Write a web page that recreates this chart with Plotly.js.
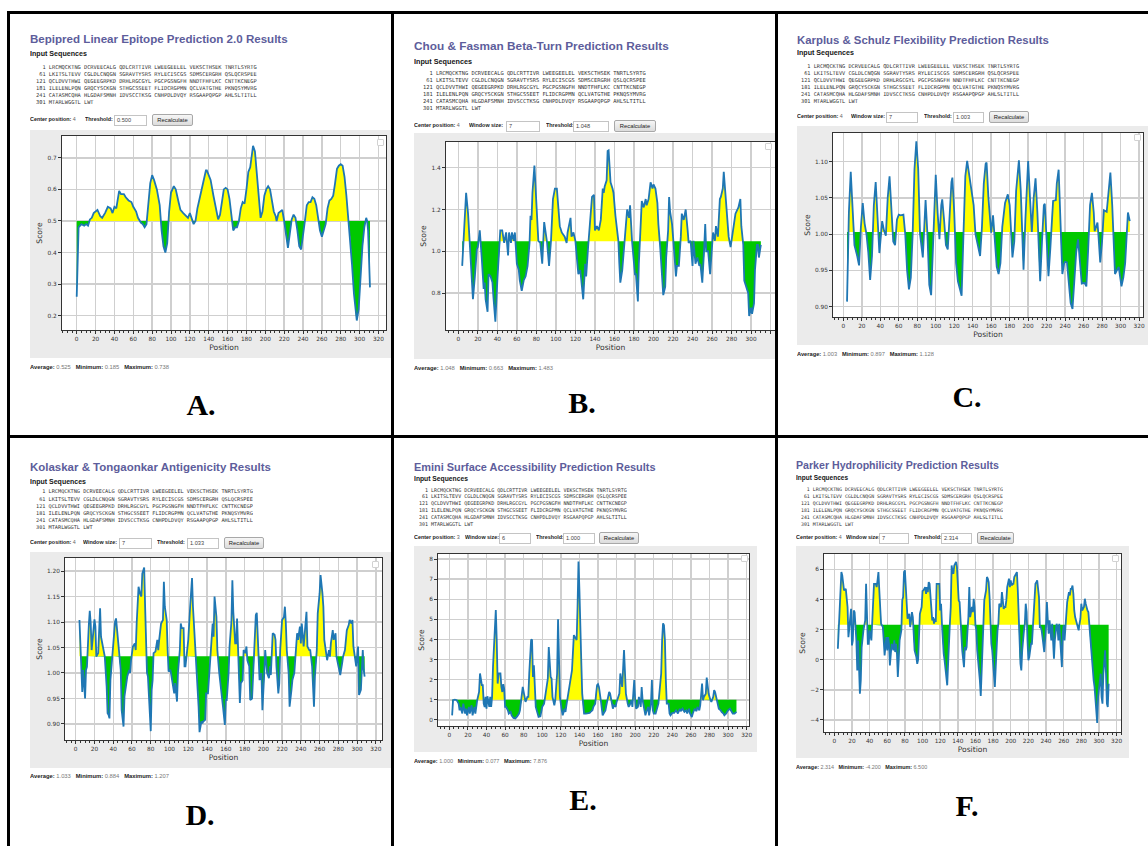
<!DOCTYPE html>
<html><head><meta charset="utf-8">
<script src="https://cdn.plot.ly/plotly-3.0.1.min.js"></script>
<style>
body{margin:0;background:#fff;width:1148px;height:846px;overflow:hidden;position:relative;font-family:"Liberation Sans",Arial,sans-serif;}
.abs{position:absolute;white-space:nowrap;opacity:0.995;}
.title{font-weight:bold;color:#5d5d9b;}
.is{font-weight:bold;color:#151515;}
.seq{font-family:"DejaVu Sans Mono",monospace;color:#333;white-space:pre;}
.ctl{color:#1a1a1a;}
.ctl b{font-weight:bold;}
.ctl span{color:#666;}
.inp{position:absolute;background:#fff;border:1px solid #c4c4c4;box-sizing:border-box;font-size:5.6px;color:#444;padding-left:2px;display:flex;align-items:center;opacity:0.995;}
.btn{position:absolute;background:linear-gradient(#f6f6f6,#dcdcdc);border:1px solid #a8a8a8;border-radius:2px;box-sizing:border-box;font-size:5.8px;color:#1a1a1a;display:flex;align-items:center;justify-content:center;opacity:0.995;}
.stats{color:#777;}
.stats b{color:#1a1a1a;}
.lbl{font-family:"Liberation Serif","Times New Roman",serif;font-weight:bold;color:#000;transform:translate(-50%,-50%);}
.icon{position:absolute;width:5px;height:5px;border:1px solid #d2d2d2;border-radius:1px;background:#fff;z-index:5;}
.bd{position:absolute;background:#000;z-index:10;}
.plot{position:absolute;overflow:hidden;}
</style></head><body>
<script>
// ---------------- DATA ----------------
const sequenceLines = [
"  1 LRCMQCKTNG DCRVEECALG QDLCRTTIVR LWEEGEELEL VEKSCTHSEK TNRTLSYRTG",
" 61 LKITSLTEVV CGLDLCNQGN SGRAVTYSRS RYLECISCGS SDMSCERGRH QSLQCRSPEE",
"121 QCLDVVTHWI QEGEEGRPKD DRHLRGCGYL PGCPGSNGFH NNDTFHFLKC CNTTKCNEGP",
"181 ILELENLPQN GRQCYSCKGN STHGCSSEET FLIDCRGPMN QCLVATGTHE PKNQSYMVRG",
"241 CATASMCQHA HLGDAFSMNH IDVSCCTKSG CNHPDLDVQY RSGAAPQPGP AHLSLTITLL",
"301 MTARLWGGTL LWT"];

const panelIds = ['A','B','C','D','E','F'];
const panelTitles = ['Bepipred Linear Epitope Prediction 2.0 Results','Chou & Fasman Beta-Turn Prediction Results','Karplus & Schulz Flexibility Prediction Results','Kolaskar & Tongaonkar Antigenicity Results','Emini Surface Accessibility Prediction Results','Parker Hydrophilicity Prediction Results'];
const centerPositions = ['4','4','4','4','3','4'];
const windowSizes = [null,'7','7','7','6','7'];
const thresholds = [0.500, 1.048, 1.003, 1.033, 1.000, 2.314];
const averages = ['0.525','1.048','1.003','1.033','1.000','2.314'];
const minimums = ['0.185','0.663','0.897','0.884','0.077','-4.200'];
const maximums = ['0.738','1.483','1.128','1.207','7.876','6.500'];

// [position, score]
const bepipredA = [[0,0.26],[2,0.48],[5,0.49],[8,0.485],[10,0.49],[12,0.485],[14,0.505],[16,0.51],[18,0.525],[20,0.53],[22,0.535],[25,0.515],[27,0.51],[30,0.525],[33,0.545],[36,0.54],[38,0.525],[40,0.545],[42,0.54],[45,0.595],[47,0.585],[50,0.585],[52,0.575],[55,0.565],[58,0.56],[60,0.545],[63,0.53],[65,0.51],[68,0.495],[70,0.49],[72,0.48],[74,0.49],[76,0.55],[78,0.62],[80,0.645],[82,0.63],[85,0.60],[88,0.55],[90,0.47],[92,0.42],[94,0.40],[96,0.43],[98,0.53],[100,0.59],[103,0.61],[105,0.60],[108,0.56],[110,0.535],[113,0.525],[115,0.52],[118,0.51],[120,0.525],[122,0.51],[124,0.49],[126,0.50],[128,0.54],[131,0.58],[134,0.625],[137,0.66],[138,0.66],[140,0.645],[142,0.63],[145,0.58],[148,0.53],[150,0.505],[152,0.52],[154,0.56],[156,0.60],[158,0.605],[160,0.60],[162,0.57],[164,0.51],[166,0.47],[168,0.48],[170,0.48],[172,0.50],[174,0.54],[176,0.56],[178,0.555],[180,0.60],[182,0.655],[184,0.67],[186,0.71],[187,0.738],[189,0.72],[191,0.64],[193,0.56],[195,0.51],[197,0.53],[199,0.58],[201,0.60],[203,0.61],[205,0.60],[207,0.57],[209,0.53],[211,0.515],[212,0.50],[214,0.525],[216,0.53],[218,0.535],[220,0.50],[222,0.45],[224,0.415],[226,0.46],[228,0.505],[230,0.52],[232,0.51],[234,0.47],[236,0.42],[238,0.41],[240,0.45],[242,0.50],[244,0.55],[246,0.56],[248,0.56],[250,0.575],[252,0.57],[254,0.55],[256,0.51],[258,0.47],[260,0.45],[262,0.47],[264,0.49],[266,0.54],[268,0.565],[270,0.57],[272,0.58],[274,0.62],[276,0.665],[278,0.675],[280,0.68],[282,0.675],[284,0.64],[286,0.58],[288,0.51],[290,0.45],[292,0.36],[294,0.27],[296,0.20],[297,0.185],[299,0.22],[301,0.33],[303,0.42],[305,0.48],[307,0.51],[308,0.50],[309,0.47],[311,0.29]];

const chouFasmanB = [[4,0.93],[8,1.28],[10,1.18],[15,0.77],[17,0.88],[19,1.01],[20,1.02],[22,1.10],[24,0.97],[26,0.82],[27,0.85],[28,0.77],[30,0.71],[31,0.89],[33,0.88],[35,0.85],[36,0.78],[38,0.663],[40,0.86],[43,1.10],[45,1.10],[47,1.04],[49,1.09],[51,0.98],[52,1.09],[54,1.04],[55,1.09],[57,1.05],[58,1.09],[60,0.94],[62,0.91],[63,0.86],[65,0.81],[67,0.86],[69,0.88],[71,0.93],[73,1.04],[74,1.17],[75,1.15],[76,1.28],[78,1.41],[80,1.23],[82,1.05],[84,1.04],[86,0.94],[88,1.14],[90,1.07],[91,1.04],[93,0.93],[95,1.05],[97,1.25],[99,1.30],[101,1.30],[103,1.18],[104,1.12],[106,1.09],[109,1.07],[111,1.04],[112,1.09],[115,1.16],[116,1.07],[118,1.09],[120,1.05],[122,0.94],[123,0.89],[125,0.91],[127,0.83],[128,0.77],[130,0.94],[131,0.88],[133,1.02],[135,1.15],[137,1.26],[139,1.27],[140,1.10],[142,1.12],[144,1.10],[146,1.15],[148,1.30],[149,1.28],[150,1.31],[152,1.34],[153,1.48],[154,1.483],[156,1.33],[158,1.30],[159,1.28],[161,1.17],[163,1.10],[164,1.05],[165,0.94],[166,0.85],[168,0.91],[170,1.04],[172,1.15],[173,1.20],[175,1.16],[176,1.22],[178,1.05],[180,0.96],[181,0.89],[182,0.89],[184,0.76],[185,0.94],[187,1.18],[188,1.24],[190,1.21],[192,1.25],[193,1.22],[195,1.25],[197,1.33],[199,1.30],[200,1.32],[202,1.30],[204,1.23],[205,1.13],[207,1.01],[209,0.88],[210,0.79],[212,0.83],[213,0.97],[215,1.10],[216,1.26],[217,1.19],[219,1.13],[221,1.01],[223,0.88],[224,0.93],[226,0.93],[228,1.07],[229,1.18],[231,1.15],[233,1.20],[235,1.10],[236,1.04],[238,1.05],[240,0.93],[241,1.05],[243,0.94],[245,0.97],[247,0.93],[248,0.94],[250,0.85],[252,1.02],[253,1.13],[254,1.00],[256,1.00],[258,0.89],[260,1.02],[261,1.09],[263,1.05],[264,1.12],[266,1.07],[268,1.25],[269,1.26],[271,1.30],[272,1.38],[274,1.26],[276,1.12],[277,1.07],[279,1.02],[281,1.09],[282,1.13],[284,1.18],[287,1.21],[289,1.25],[290,1.12],[292,1.03],[293,0.86],[295,0.83],[297,0.80],[298,0.69],[300,0.73],[301,0.70],[303,0.75],[304,0.91],[306,1.03],[307,1.03],[308,0.97],[310,1.03]];

const karplusSchulzC = [[4,0.907],[6,1.03],[8,1.086],[10,1.04],[12,0.985],[15,0.97],[17,0.957],[19,1.01],[21,1.043],[23,1.015],[25,1.0],[27,0.975],[29,0.937],[31,0.97],[33,1.04],[35,1.072],[37,1.02],[39,0.974],[42,1.018],[44,1.005],[46,0.998],[48,1.05],[50,1.080],[52,1.04],[54,0.99],[56,0.985],[58,1.02],[60,1.027],[62,1.026],[65,1.027],[67,1.0],[69,0.95],[71,0.924],[73,0.94],[75,1.0],[77,1.09],[79,1.128],[81,1.09],[83,1.0],[86,0.968],[87,1.0],[89,1.047],[91,1.0],[93,0.93],[95,0.916],[97,0.98],[99,1.06],[100,1.082],[102,1.03],[104,0.993],[106,1.04],[107,1.048],[109,1.02],[111,0.985],[113,0.979],[115,1.03],[117,1.072],[118,1.078],[120,1.03],[122,0.96],[124,0.935],[126,0.925],[128,0.915],[130,1.0],[132,1.08],[134,1.101],[136,1.085],[139,1.061],[141,1.04],[143,1.0],[146,0.98],[148,0.970],[150,1.01],[152,1.07],[154,1.097],[155,1.099],[157,1.05],[160,1.002],[162,1.026],[164,0.99],[166,0.955],[168,0.945],[170,0.96],[172,1.01],[175,1.043],[178,1.055],[180,1.04],[183,0.968],[185,0.99],[187,1.06],[189,1.097],[190,1.102],[192,1.06],[194,0.97],[195,0.951],[197,1.02],[199,1.09],[200,1.101],[202,1.05],[204,1.003],[206,1.05],[208,1.077],[210,1.03],[212,0.95],[213,0.935],[215,0.99],[217,1.04],[218,1.042],[220,0.99],[222,0.942],[224,0.98],[226,1.04],[227,1.046],[230,1.047],[231,1.07],[233,1.089],[235,1.0],[237,0.945],[239,0.96],[240,0.962],[242,0.961],[244,0.93],[246,0.905],[248,0.897],[250,0.93],[252,0.975],[254,0.993],[256,0.96],[258,0.932],[261,0.933],[263,0.928],[265,0.98],[267,1.04],[269,1.057],[271,1.03],[272,1.004],[275,1.016],[276,1.0],[278,0.961],[280,0.99],[282,1.033],[285,1.031],[287,1.06],[289,1.085],[291,1.04],[292,1.0],[294,0.945],[296,0.95],[298,0.955],[301,0.928],[303,0.94],[305,0.96],[307,1.0],[308,1.030],[310,1.018]];

const kolaskarD = [[4,1.104],[5,1.052],[7,0.963],[8,1.006],[10,0.950],[11,1.006],[12,1.012],[14,1.094],[15,1.122],[16,1.097],[17,1.045],[18,1.065],[20,1.105],[21,1.091],[22,1.032],[24,1.039],[25,1.078],[26,1.127],[27,1.071],[29,1.052],[30,1.045],[31,1.032],[33,0.973],[34,0.921],[35,0.918],[36,0.911],[37,0.986],[39,1.032],[40,1.065],[42,1.101],[43,1.107],[45,1.065],[46,1.032],[48,1.006],[49,0.927],[51,0.895],[52,0.954],[54,0.980],[55,0.993],[57,1.006],[58,1.0],[59,1.025],[61,1.052],[63,1.058],[64,1.045],[65,1.097],[67,1.169],[69,1.153],[70,1.150],[71,1.195],[73,1.207],[74,1.130],[75,1.065],[76,1.0],[77,0.993],[79,0.921],[80,0.886],[81,0.967],[82,0.986],[83,1.039],[85,1.042],[87,1.065],[88,1.045],[89,1.065],[91,1.097],[93,1.104],[94,1.179],[95,1.130],[97,1.104],[98,1.045],[99,1.003],[101,1.006],[102,0.993],[104,0.963],[105,0.960],[106,0.980],[108,0.944],[109,1.0],[111,1.045],[112,1.097],[113,1.088],[115,1.088],[116,1.013],[117,1.013],[119,1.045],[120,1.065],[122,1.130],[123,1.169],[124,1.186],[125,1.130],[127,1.065],[128,1.032],[130,0.986],[131,0.934],[132,0.884],[134,0.905],[135,0.901],[136,0.905],[138,0.908],[139,0.960],[141,0.960],[142,0.986],[143,1.032],[145,1.071],[146,1.097],[147,1.071],[148,1.150],[150,1.110],[151,1.045],[153,1.0],[154,0.986],[155,0.967],[157,0.934],[159,0.898],[160,0.947],[161,0.947],[163,1.0],[164,1.052],[166,1.101],[167,1.182],[168,1.120],[170,1.058],[171,1.058],[172,1.107],[174,0.986],[175,0.941],[176,0.980],[178,0.986],[179,1.045],[181,1.039],[182,1.052],[183,1.025],[185,1.013],[186,0.947],[188,0.950],[189,1.0],[190,1.013],[192,1.114],[193,1.118],[195,1.045],[196,0.986],[198,1.0],[199,0.927],[201,1.0],[202,1.045],[204,1.0],[206,0.990],[207,1.013],[208,0.996],[210,1.078],[212,1.075],[213,1.065],[214,1.013],[216,0.960],[217,0.980],[218,1.045],[220,1.104],[222,1.110],[223,1.130],[224,1.097],[225,1.045],[227,1.0],[228,0.934],[230,0.967],[231,0.986],[233,1.0],[234,1.032],[236,1.078],[237,1.065],[239,1.091],[240,1.058],[241,1.097],[243,1.052],[245,1.097],[246,1.120],[247,1.052],[249,1.045],[250,1.045],[252,1.013],[254,0.934],[255,0.993],[257,1.045],[258,1.117],[260,1.156],[261,1.192],[263,1.156],[264,1.130],[265,1.065],[267,1.032],[268,1.025],[270,1.045],[271,1.032],[272,1.058],[274,1.084],[275,1.065],[277,1.078],[278,1.032],[280,1.013],[281,1.006],[282,0.996],[284,1.019],[285,1.032],[287,1.045],[288,1.065],[289,1.084],[291,1.094],[292,1.104],[294,1.097],[295,1.104],[296,1.052],[298,1.025],[299,1.013],[301,1.052],[302,0.957],[304,0.967],[305,1.0],[306,1.045],[307,1.006],[308,0.993]];

const eminiE = [[3,0.23],[4,0.98],[6,1.01],[8,0.98],[10,0.81],[11,0.48],[12,0.65],[14,0.32],[15,0.81],[17,0.32],[18,0.56],[19,0.23],[21,0.65],[22,0.32],[24,0.73],[25,0.23],[27,0.65],[28,0.32],[30,0.98],[31,1.15],[32,1.39],[33,2.31],[35,1.73],[36,1.73],[37,0.81],[38,0.65],[39,1.15],[40,0.56],[41,1.18],[43,0.65],[44,1.15],[45,0.65],[46,1.15],[47,2.64],[48,3.63],[49,4.63],[50,5.46],[51,3.97],[52,1.81],[53,2.31],[55,2.31],[56,1.64],[57,1.39],[58,1.78],[59,1.56],[60,0.65],[61,0.65],[63,0.48],[64,0.32],[66,0.40],[67,0.23],[69,0.10],[71,0.077],[73,0.18],[75,0.32],[76,0.48],[78,1.15],[79,1.64],[80,1.39],[81,0.98],[82,0.90],[84,1.15],[85,1.15],[86,2.31],[88,3.97],[89,4.0],[90,2.14],[91,2.72],[92,1.15],[93,0.65],[95,0.32],[96,0.15],[98,0.18],[99,0.48],[100,0.65],[102,0.81],[103,1.15],[104,1.31],[106,2.06],[107,3.63],[108,2.97],[109,2.14],[110,2.06],[111,1.15],[113,0.73],[114,0.98],[115,1.64],[116,2.31],[117,5.01],[118,2.31],[119,1.15],[121,0.48],[122,0.23],[124,0.56],[125,0.40],[126,0.73],[128,1.31],[129,1.64],[131,2.31],[132,2.47],[134,4.22],[135,4.13],[137,3.97],[138,5.63],[139,7.876],[140,6.46],[141,3.97],[142,2.89],[143,1.31],[144,0.56],[145,0.32],[147,0.32],[148,0.32],[150,0.32],[151,0.35],[152,0.40],[154,0.48],[155,0.65],[157,0.81],[158,1.31],[159,1.73],[160,1.78],[161,1.64],[163,0.98],[164,0.65],[165,0.23],[166,0.32],[168,0.48],[169,0.73],[171,1.23],[172,1.39],[173,1.31],[174,0.98],[176,0.56],[177,0.73],[179,0.65],[180,0.90],[182,1.15],[183,1.31],[184,2.31],[185,1.81],[186,1.64],[188,3.47],[189,2.64],[190,1.31],[192,0.81],[193,0.65],[194,0.73],[196,0.98],[197,0.65],[199,1.98],[200,0.98],[201,0.56],[203,0.65],[204,1.15],[206,0.65],[207,1.64],[208,0.98],[210,0.48],[211,0.23],[212,0.40],[214,0.65],[215,0.23],[217,0.81],[218,1.98],[219,0.48],[220,0.32],[222,0.32],[223,0.48],[225,0.81],[226,1.31],[228,2.31],[229,3.97],[230,4.80],[231,4.71],[232,3.97],[233,1.98],[234,0.81],[236,0.81],[237,0.32],[238,0.23],[240,0.35],[242,0.35],[244,0.48],[246,0.32],[248,0.56],[249,0.44],[251,0.56],[253,0.40],[255,0.48],[256,0.32],[258,0.56],[259,0.32],[261,0.15],[262,0.32],[264,0.56],[266,0.44],[267,0.65],[269,0.48],[270,0.73],[272,1.81],[273,0.98],[274,1.15],[276,1.31],[277,2.11],[278,1.64],[279,1.31],[281,0.98],[282,0.90],[284,1.15],[285,1.48],[286,1.39],[288,0.98],[289,0.73],[290,0.56],[292,0.48],[293,0.40],[295,0.32],[296,0.23],[298,0.32],[300,0.48],[302,0.56],[303,0.48],[305,0.32],[307,0.32],[309,0.40]];

const parkerF = [[4,0.73],[5,2.29],[6,3.16],[7,4.38],[8,5.82],[9,5.6],[10,5.04],[11,4.6],[13,4.71],[14,4.16],[15,3.5],[16,1.5],[17,2.17],[18,3.05],[19,3.38],[20,0.95],[21,1.28],[22,3.27],[23,3.16],[25,1.28],[26,-0.71],[27,1.28],[28,-0.49],[29,-2.26],[30,-1.37],[31,0.84],[33,1.95],[34,2.39],[35,2.61],[36,5.04],[37,2.39],[38,1.06],[39,1.06],[40,1.95],[42,1.28],[43,2.39],[44,3.94],[45,5.04],[47,5.04],[48,4.82],[49,5.27],[50,5.82],[51,4.6],[53,2.39],[54,2.28],[55,2.17],[56,1.28],[57,0.29],[59,1.5],[60,0.62],[61,1.5],[62,1.06],[63,-0.38],[64,0.4],[65,1.06],[67,0.62],[68,1.28],[69,0.51],[70,1.06],[71,0.4],[72,-1.15],[73,-0.04],[74,1.28],[76,1.95],[77,3.94],[78,4.16],[79,5.82],[80,5.93],[81,4.6],[82,3.5],[83,2.72],[85,3.05],[86,2.17],[87,2.6],[88,3.16],[89,2.83],[90,1.28],[91,0.62],[93,0.18],[94,-0.27],[95,0],[96,2.28],[97,3.05],[99,3.5],[100,4.56],[101,4.6],[102,4.71],[103,4.82],[104,4.38],[105,4.82],[106,4.49],[107,5.15],[108,5.04],[110,3.05],[111,2.61],[112,2.83],[113,2.4],[114,2.72],[115,2.5],[116,5.04],[118,5.04],[119,5.04],[120,3.27],[121,3.72],[122,2.39],[123,1.06],[124,0.4],[125,-0.04],[127,-1.37],[128,-1.7],[129,-0.27],[130,1.95],[131,2.39],[132,3.5],[133,6.26],[134,5.82],[135,5.71],[136,6.26],[138,6.5],[139,6.15],[140,5.04],[141,3.94],[142,3.83],[143,2.83],[144,1.28],[145,0.62],[147,-0.49],[148,0.84],[149,0.62],[150,0.84],[151,1.95],[152,2.83],[153,4.82],[154,2.83],[156,3.5],[157,3.16],[158,4.05],[159,3.5],[160,2.28],[161,1.95],[162,0.62],[164,-0.49],[165,-1.37],[166,-2.4],[167,-0.93],[168,0.84],[169,2.39],[170,3.94],[172,4.6],[173,5.49],[174,5.38],[175,5.15],[176,4.16],[177,2.39],[178,1.06],[179,0.62],[181,-1.15],[182,-1.81],[183,-0.49],[184,1.5],[185,1.95],[186,2.39],[187,3.72],[189,3.5],[190,4.49],[191,3.94],[192,3.38],[193,3.5],[194,3.5],[195,3.94],[196,4.82],[198,5.38],[199,4.82],[200,5.27],[201,4.93],[202,5.04],[203,5.04],[204,5.49],[206,5.71],[207,5.82],[208,4.6],[209,2.39],[210,0.18],[211,-0.27],[212,-0.71],[213,0.62],[215,1.95],[216,2.39],[217,3.72],[218,3.16],[219,1.28],[220,-0.04],[221,0.18],[223,1.06],[224,1.06],[225,2.28],[226,3.5],[227,4.6],[228,5.04],[229,5.15],[230,5.27],[232,4.16],[233,2.17],[234,2.17],[235,1.95],[236,1.5],[237,0.84],[238,0.51],[240,2.17],[241,3.83],[242,2.61],[243,1.73],[244,2.61],[245,1.62],[246,1.28],[247,2.39],[249,0.07],[250,1.28],[251,1.95],[252,2.39],[253,2.17],[254,1.28],[255,2.39],[256,1.17],[258,-0.49],[259,1.73],[260,2.28],[261,1.28],[262,2.39],[263,3.27],[264,3.83],[266,4.49],[267,4.27],[268,4.71],[269,4.71],[270,4.93],[271,4.38],[272,3.27],[273,2.83],[275,2.39],[276,2.06],[277,1.95],[278,2.39],[279,2.72],[280,3.72],[281,3.27],[283,3.5],[284,4.05],[285,3.72],[286,3.38],[287,3.27],[288,3.16],[289,2.39],[290,1.28],[292,0.18],[293,-0.49],[294,-1.37],[295,-1.81],[296,-2.7],[297,-3.2],[298,-4.2],[299,-2.48],[300,-1.81],[302,-0.93],[303,-2.48],[304,-2.92],[305,-0.93],[306,0.4],[307,0.62],[308,-0.93],[309,-2.92],[310,-3.14],[311,-1.59]];

const seriesList = [bepipredA, chouFasmanB, karplusSchulzC, kolaskarD, eminiE, parkerF];

// ---------------- LAYOUT (positions / styles only) ----------------
const plotBoxes = [
 {gray:[30,130,361,228], m:{l:32,r:5,t:6,b:28}, xr:[-15.6,328], yr:[0.155,0.769], ydt:0.1, yfmt:'.1f', icon:[377,139]},
 {gray:[414,133,361,226], m:{l:32,r:0,t:9,b:29}, xr:[-12.6,324.5], yr:[0.623,1.523], ydt:0.2, yfmt:'.1f', icon:[765,143]},
 {gray:[797,126,351,219], m:{l:36,r:5,t:7,b:28}, xr:[-11.2,324.3], yr:[0.8858,1.1396], ydt:0.05, yfmt:'.2f', icon:[1134,134]},
 {gray:[30,552,361,216], m:{l:35,r:9,t:6,b:28}, xr:[-11.4,326.5], yr:[0.8686,1.2255], ydt:0.05, yfmt:'.2f', icon:[372,561]},
 {gray:[414,546,343,206], m:{l:24,r:8,t:8,b:26}, xr:[-12.2,322.5], yr:[-0.30,8.25], ydt:1, yfmt:'d', icon:[741,555]},
 {gray:[796,546,333,212], m:{l:28,r:8,t:8,b:26}, xr:[-11.7,325], yr:[-4.80,7.02], ydt:2, yfmt:'', icon:[1112,555]}
];
const headerBoxes = [
 {title:[30,40,258], is:[30,55,57], seq:[36,67,221,7], ctlY:120, cp:30, win:null, thr:85, thrBox:[114,147], btn:[152,193], stats:[30,368,139], lab:[201,405]},
 {title:[414,47,255], is:[414,62,58], seq:[423,73,223,7], ctlY:126, cp:414, win:[469,506,540], thr:546, thrBox:[573,609], btn:[614,656], stats:[414,369,139], lab:[582,403]},
 {title:[797,41,252], is:[797,54,57], seq:[801,66,218,7], ctlY:117, cp:797, win:[851,886,918], thr:924, thrBox:[953,984], btn:[989,1029], stats:[797,355,137], lab:[967,397]},
 {title:[30,468,241], is:[30,482,56], seq:[36,492,217,7.1], ctlY:543, cp:30, win:[83,119,152], thr:157, thrBox:[187,219], btn:[224,264], stats:[30,777,139], lab:[200,815]},
 {title:[414,467,242], is:[414,479,54], seq:[419,490,208,6.8], ctlY:538, cp:414, win:[465,499,531], thr:536, thrBox:[563,595], btn:[599,639], stats:[414,762,133], lab:[583,800]},
 {title:[796,465,203], is:[796,478,52], seq:[801,489,202,7], ctlY:538, cp:796, win:[846,879,909], thr:914, thrBox:[941,972], btn:[977,1014], stats:[796,768,131], lab:[967,806]}
];

function addText(html, cls, x, yc, fs, targetW){
  const d = document.createElement('div');
  d.className = 'abs ' + cls;
  d.innerHTML = html;
  d.style.left = x + 'px';
  d.style.fontSize = fs + 'px';
  d.style.lineHeight = fs + 'px';
  document.body.appendChild(d);
  if (targetW){
    const w = d.getBoundingClientRect().width;
    fs = fs * targetW / w;
    d.style.fontSize = fs + 'px';
    d.style.lineHeight = fs + 'px';
  }
  d.style.top = (yc - fs/2) + 'px';
  return d;
}
function addBox(cls, x1, x2, yc, h, text){
  const d = document.createElement('div');
  d.className = cls;
  d.style.left = x1 + 'px'; d.style.width = (x2 - x1) + 'px';
  d.style.top = (yc - h/2) + 'px'; d.style.height = h + 'px';
  d.textContent = text;
  document.body.appendChild(d);
}
function addRect(cls, x, y, w, h){
  const d = document.createElement('div');
  d.className = cls;
  d.style.left = x + 'px'; d.style.top = y + 'px';
  d.style.width = w + 'px'; d.style.height = h + 'px';
  document.body.appendChild(d);
  return d;
}

// fill geometry: split the series at the threshold so the two colours meet the line
function splitAtThreshold(xs, ys, T){
  const X = [], up = [], lo = [];
  for (let i = 0; i < xs.length; i++){
    if (i > 0 && (ys[i-1] - T) * (ys[i] - T) < 0){
      const t = (T - ys[i-1]) / (ys[i] - ys[i-1]);
      X.push(xs[i-1] + t * (xs[i] - xs[i-1])); up.push(T); lo.push(T);
    }
    X.push(xs[i]); up.push(Math.max(ys[i], T)); lo.push(Math.min(ys[i], T));
  }
  return {X, up, lo};
}

const tickFont = {family:'DejaVu Sans', size:5.8, color:'#333'};
const titleFont = {family:'DejaVu Sans', size:7.6, color:'#333'};

panelIds.forEach((id, k) => {
  const hb = headerBoxes[k];
  addText(panelTitles[k].replace('&','&amp;'), 'title', hb.title[0], hb.title[1], 11.5, hb.title[2]);
  addText('Input Sequences', 'is', hb.is[0], hb.is[1], 7.1, hb.is[2]);
  const sq = document.createElement('div');
  sq.className = 'abs seq';
  sq.textContent = sequenceLines.join('\n');
  sq.style.left = hb.seq[0] + 'px';
  sq.style.fontSize = '5.3px';
  sq.style.lineHeight = hb.seq[3] + 'px';
  document.body.appendChild(sq);
  const w0 = sq.getBoundingClientRect().width;
  sq.style.fontSize = (5.3 * hb.seq[2] / w0) + 'px';
  sq.style.top = (hb.seq[1] - hb.seq[3]/2) + 'px';

  const fsC = 5.4;
  addText('<b>Center position:</b> <span>' + centerPositions[k] + '</span>', 'ctl', hb.cp, hb.ctlY, fsC);
  if (hb.win){
    addText('<b>Window size:</b>', 'ctl', hb.win[0], hb.ctlY, fsC);
    addBox('inp', hb.win[1], hb.win[2], hb.ctlY, 11, windowSizes[k]);
  }
  addText('<b>Threshold:</b>', 'ctl', hb.thr, hb.ctlY, fsC);
  addBox('inp', hb.thrBox[0], hb.thrBox[1], hb.ctlY, 11, thresholds[k].toFixed(3));
  addBox('btn', hb.btn[0], hb.btn[1], hb.ctlY, 12, 'Recalculate');

  addText('<b>Average:</b> ' + averages[k] + '&nbsp;&nbsp; <b>Minimum:</b> ' + minimums[k] + '&nbsp;&nbsp; <b>Maximum:</b> ' + maximums[k],
          'stats', hb.stats[0], hb.stats[1], 5.7, hb.stats[2]);
  const lb = addText(id + '.', 'lbl', hb.lab[0], hb.lab[1], 30);
  lb.style.top = hb.lab[1] + 'px';

  const pb = plotBoxes[k];
  const div = addRect('plot', pb.gray[0], pb.gray[1], pb.gray[2], pb.gray[3]);
  const xs = seriesList[k].map(p => p[0]);
  const ys = seriesList[k].map(p => p[1]);
  const T = thresholds[k];
  const f = splitAtThreshold(xs, ys, T);
  const base = f.X.map(() => T);
  const traces = [
    {x:f.X, y:base, mode:'lines', line:{width:0}, hoverinfo:'skip'},
    {x:f.X, y:f.up, mode:'lines', line:{width:0}, fill:'tonexty', fillcolor:'#ffff00', hoverinfo:'skip'},
    {x:f.X, y:base, mode:'lines', line:{width:0}, hoverinfo:'skip'},
    {x:f.X, y:f.lo, mode:'lines', line:{width:0}, fill:'tonexty', fillcolor:'#00c800', hoverinfo:'skip'},
    {x:xs, y:ys, mode:'lines', line:{color:'#1f77b4', width:1.8}, name:'Score'}
  ];
  const axisCommon = {
    ticks:'outside', ticklen:3, tickwidth:1, tickcolor:'#333',
    showline:true, mirror:true, linecolor:'#333', linewidth:1,
    showgrid:true, gridcolor:'#cfcfcf', gridwidth:1.4, zeroline:false,
    tickfont:tickFont, automargin:false
  };
  const layout = {
    width:pb.gray[2], height:pb.gray[3],
    margin:Object.assign({pad:0}, pb.m),
    paper_bgcolor:'#ebebeb', plot_bgcolor:'#ffffff',
    showlegend:false,
    xaxis:Object.assign({}, axisCommon, {range:pb.xr, tick0:0, dtick:20,
      minor:{tick0:0, dtick:5, ticks:'outside', ticklen:1.5, tickcolor:'#333', showgrid:false},
      title:{text:'Position', font:titleFont, standoff:3}}),
    yaxis:Object.assign({}, axisCommon, {range:pb.yr, tick0:0, dtick:pb.ydt, tickformat:pb.yfmt,
      title:{text:'Score', font:titleFont, standoff:3}})
  };
  Plotly.newPlot(div, traces, layout, {displayModeBar:false, staticPlot:true});
  addRect('icon', pb.icon[0], pb.icon[1], 5, 5);
});

addRect('bd', 7, 11, 1141, 3);
addRect('bd', 7, 11, 2.5, 835);
addRect('bd', 391, 11, 3, 835);
addRect('bd', 775, 11, 3, 835);
addRect('bd', 7, 435, 1141, 3);
</script>
</body></html>
